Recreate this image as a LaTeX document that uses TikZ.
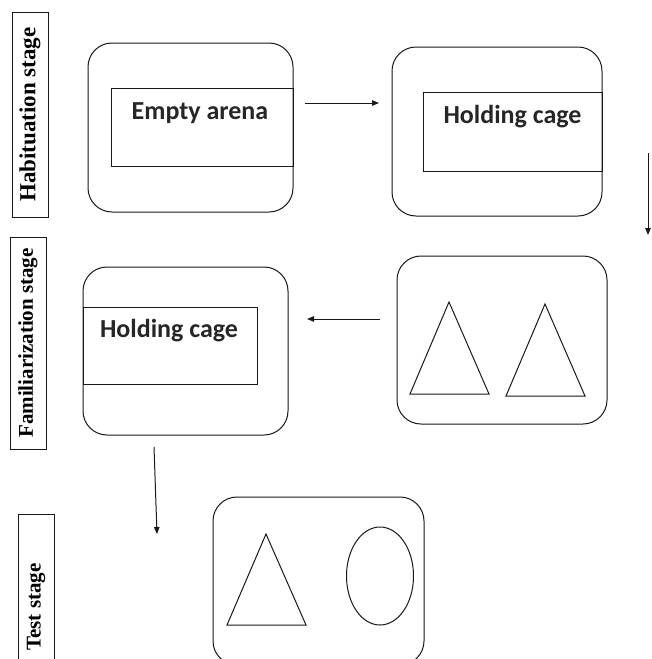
\documentclass[tikz,border=0pt]{standalone}
\usepackage{fontspec}
\setmainfont{Liberation Serif}
\newfontfamily\calib{Carlito}
\usetikzlibrary{arrows.meta}
\tikzset{
  lw/.style={line width=1pt, draw=black!90},
  rbox/.style={lw, rectangle, rounded corners=24pt, inner sep=0pt, outer sep=0pt},
  ibox/.style={lw, rectangle, inner sep=0pt, outer sep=0pt},
  stagebox/.style={lw, rectangle, rotate=90, inner sep=0pt, outer sep=0pt,
     minimum height=36pt, font=\fontsize{21}{24}\selectfont\bfseries},
  lbl/.style={anchor=base, inner sep=0pt, font=\calib\fontsize{26}{30}\selectfont\bfseries, text=black!85},
  arr/.style={lw, -{Triangle[length=7pt,width=5.5pt]}},
  shp/.style={lw, line join=miter}
}
\begin{document}
\begin{tikzpicture}[x=1pt,y=-1pt]
\clip (0,0) rectangle (651,659);
\fill[white] (0,0) rectangle (651,659);

% stage labels
\node[stagebox, minimum width=205pt, font=\fontsize{23}{26}\selectfont\bfseries] (hab) at (30,114.5) {Habituation stage};
\node[stagebox, minimum width=212pt] (fam) at (28,343) {Familiarization stage};
\node[stagebox, minimum width=186pt] (tst) at (36,607) {Test stage};

% habituation: empty arena
\node[rbox, minimum width=205pt, minimum height=169pt] (r1) at (190.5,127.5) {};
\node[ibox, minimum width=182pt, minimum height=78pt] (i1) at (202,127) {};
\node[lbl] (t1) at (200,119) {Empty arena};

% habituation: holding cage
\node[rbox, minimum width=210pt, minimum height=169pt] (r2) at (497,131.5) {};
\node[ibox, minimum width=179pt, minimum height=79pt] (i2) at (512.5,131.5) {};
\node[lbl] (t2) at (512.5,123) {Holding cage};

% familiarization: objects
\node[rbox, minimum width=210pt, minimum height=168pt] (r3) at (502,340) {};
\draw[shp] (449,302) -- (410,394) -- (489,394) -- cycle;
\draw[shp] (545,304) -- (506,396) -- (585,396) -- cycle;

% familiarization: holding cage
\node[rbox, minimum width=205pt, minimum height=168pt] (r4) at (185.5,351) {};
\node[ibox, minimum width=174pt, minimum height=77pt] (i4) at (170,345.5) {};
\node[lbl] (t4) at (169,337) {Holding cage};

% test
\node[rbox, minimum width=211pt, minimum height=168pt] (r5) at (318.5,581) {};
\draw[shp] (266,534) -- (227,625) -- (306,625) -- cycle;
\draw[lw] (380,576) ellipse [x radius=33.5, y radius=49];

% arrows
\coordinate (a1s) at (305,103); \coordinate (a1e) at (379,103);
\coordinate (a2s) at (648,153); \coordinate (a2e) at (648,235);
\coordinate (a3s) at (380,319); \coordinate (a3e) at (307,319);
\coordinate (a4s) at (154,447); \coordinate (a4e) at (157,534);
\draw[arr] (a1s) -- (a1e);
\draw[arr] (a2s) -- (a2e);
\draw[arr] (a3s) -- (a3e);
\draw[arr] (a4s) -- (a4e);
\end{tikzpicture}
\end{document}
